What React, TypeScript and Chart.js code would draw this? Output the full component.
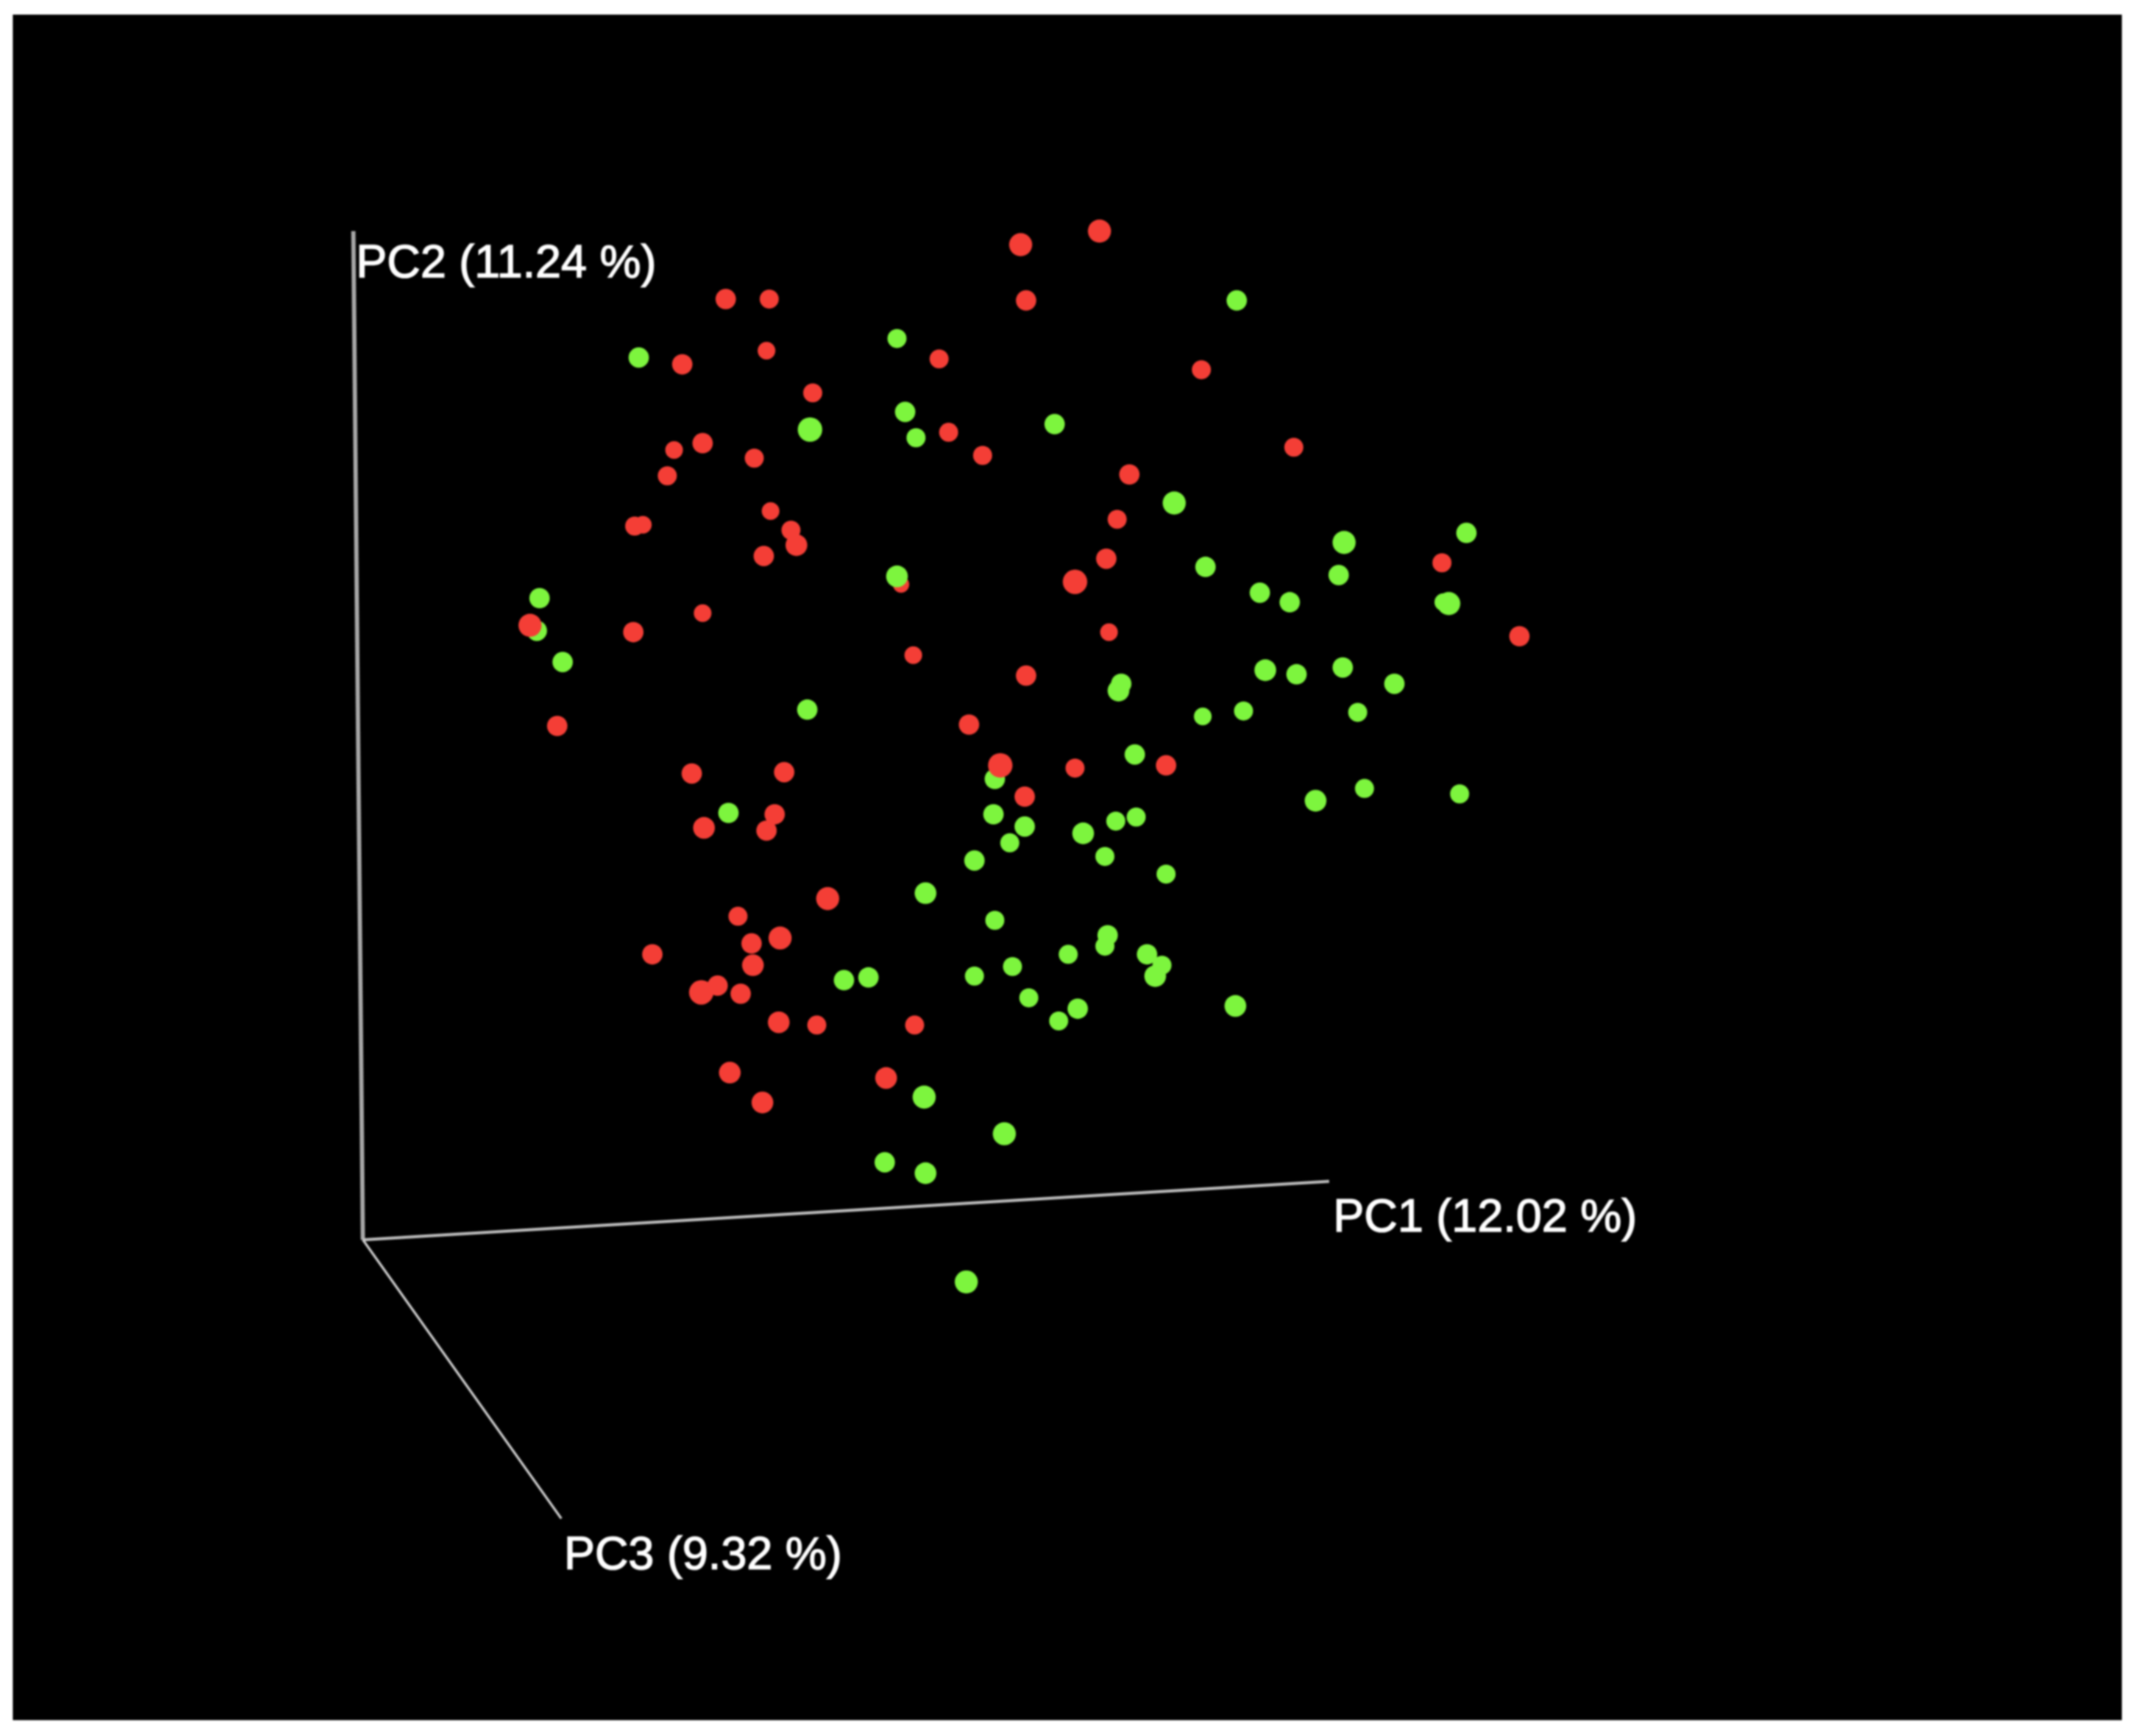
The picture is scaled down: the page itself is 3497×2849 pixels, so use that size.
import React, { useEffect, useRef } from "react";
import { Chart, registerables } from "chart.js";

Chart.register(...registerables);

const W = 3497;
const H = 2849;
const VIEW_W = 1568;
const VIEW_H = 1277;

const redX = [809,751,755,534,566,564,502,691,884,598,698,723,952,496,517,555,491,831,567,822,467,473,582,586,562,814,1061,791,663,517,390,466,816,1118,672,755,410,713,736,791,858,509,577,754,570,518,564,609,543,553,574,480,554,528,516,545,573,601,673,537,652,561];
const redY = [170,180,221,220,220,258,268,264,272,289,318,335,329,331,326,337,350,349,376,382,387,386,390,401,409,411,414,428,430,451,460,465,465,468,482,497,534,533,563,565,563,569,568,586,599,609,611,661,674,694,690,702,710,725,730,731,752,754,754,789,793,811];
const redDepth = [8.5,8.5,7.5,7.5,7,6.5,7.5,7,7,7,7,7,7,6.5,7.5,7,7,7.5,6.5,7,7,6.5,7,8,7.5,7.5,7,9,6,6.5,8.5,7.5,6.5,7.5,6.5,7.5,7.5,7.5,9,7,7.5,7.5,7.5,7.5,7.5,8,7.5,8.5,7,7.5,8.5,7.5,8,7.5,9,7.5,8,7,7,8,8,8];

const greenBackX = [732,395,1062];
const greenBackY = [573,464,443];
const greenBackDepth = [7.5,7.5,6.5];

const greenX = [910,470,660,666,596,674,776,864,1079,989,887,985,927,949,1066,660,397,414,988,931,954,1026,825,823,915,885,999,594,835,1004,968,1074,536,731,754,821,836,797,743,813,717,858,681,732,815,813,786,844,855,850,745,717,639,621,757,793,779,909,680,739,651,681,711];
const greenY = [221,263,249,303,316,322,312,370,392,399,417,423,436,443,444,424,440,487,491,493,496,503,503,508,523,527,524,522,555,580,589,584,598,599,608,604,601,613,620,630,633,643,657,677,688,696,702,702,710,718,711,718,719,721,734,742,751,740,807,834,855,863,943];
const greenDepth = [7.5,7.5,7,7.5,9,7,7.5,8.5,7.5,8.5,7.5,7.5,7.5,7.5,8.5,8,7.5,7.5,7.5,8,7.5,7.5,7.5,8,7,6.5,7,7.5,7.5,7,8,7,7.5,7.5,7.5,7,7,8,7,7,7.5,7,8,7,7.5,7,7,7.5,7,8,7,7,7.5,7.5,7,7.5,7,8,8.5,8.5,7.5,8,8.5];

const axisNames = ["PC1 (12.02 %)", "PC2 (11.24 %)", "PC3 (9.32 %)"];
const axisOrigin = [267, 912];
const axisTipX = [978, 260, 413];
const axisTipY = [869, 170, 1117];
const labelX = [981, 262, 415];
const labelY = [906, 204, 1154];

const RED = "#f43e36";
const GREEN = "#7df53e";

function pts(xs: number[], ys: number[]) {
  return xs.map((x, i) => ({ x, y: ys[i] }));
}

function pointSet(xs: number[], ys: number[], depth: number[], color: string) {
  return {
    type: "scatter" as const,
    data: pts(xs, ys),
    backgroundColor: color,
    borderWidth: 0,
    pointRadius: depth.map((d) => d * (W / VIEW_W)),
    pointHoverRadius: depth.map((d) => d * (W / VIEW_W)),
  };
}

function axisLine(i: number, widthPx: number, color: string) {
  return {
    type: "line" as const,
    data: [
      { x: axisOrigin[0], y: axisOrigin[1] },
      { x: axisTipX[i], y: axisTipY[i] },
    ],
    borderColor: color,
    borderWidth: widthPx,
    pointRadius: 0,
    fill: false,
  };
}

const backdrop = {
  id: "backdrop",
  beforeDraw(chart: any) {
    const c = chart.ctx;
    c.save();
    c.fillStyle = "#ffffff";
    c.fillRect(0, 0, W, H);
    c.fillStyle = "#000000";
    c.fillRect(21, 24, 3461, 2799);
    c.restore();
  },
  afterDatasetsDraw(chart: any) {
    const c = chart.ctx;
    const { x, y } = chart.scales;
    c.save();
    c.fillStyle = "#ffffff";
    c.strokeStyle = "#ffffff";
    c.lineWidth = 1.6;
    c.font = '76px "Liberation Sans"';
    c.textAlign = "left";
    c.textBaseline = "alphabetic";
    axisNames.forEach((name, i) => {
      const px = x.getPixelForValue(labelX[i]);
      const py = y.getPixelForValue(labelY[i]);
      c.fillText(name, px, py);
      c.strokeText(name, px, py);
    });
    c.restore();
  },
};

export default function App() {
  const ref = useRef<HTMLCanvasElement>(null);
  useEffect(() => {
    document.body.style.margin = "0";
    document.body.style.background = "#ffffff";
    const chart = new Chart(ref.current!, {
      data: {
        datasets: [
          axisLine(1, 7, "#a8a8a8"),
          axisLine(0, 5, "#bcbcbc"),
          axisLine(2, 4, "#cccccc"),
          pointSet(greenBackX, greenBackY, greenBackDepth, GREEN),
          pointSet(redX, redY, redDepth, RED),
          pointSet(greenX, greenY, greenDepth, GREEN),
        ].map((d, i, a) => ({ ...d, order: a.length - i })) as any,
      },
      options: {
        animation: false,
        responsive: false,
        devicePixelRatio: 1,
        layout: { padding: 0, autoPadding: false },
        plugins: { legend: { display: false }, tooltip: { enabled: false } },
        scales: {
          x: { type: "linear", min: 0, max: VIEW_W, display: false },
          y: { type: "linear", min: 0, max: VIEW_H, reverse: true, display: false },
        },
      },
      plugins: [backdrop],
    });
    return () => chart.destroy();
  }, []);
  return (
    <canvas
      ref={ref}
      width={W}
      height={H}
      style={{ display: "block", width: W, height: H, filter: "blur(1.6px)" }}
    />
  );
}
